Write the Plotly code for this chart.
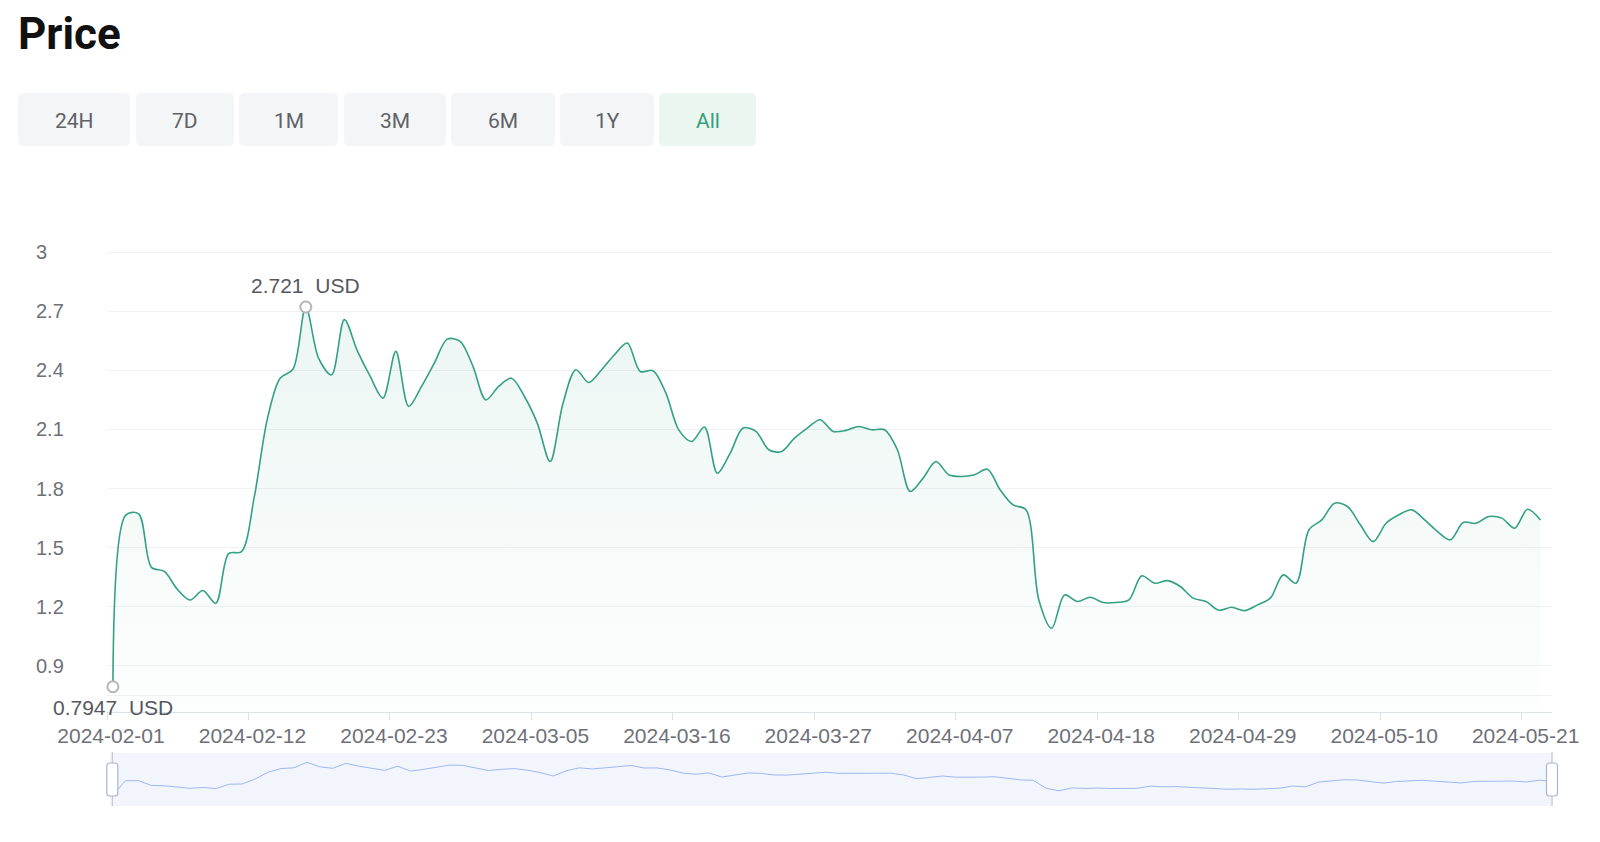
import plotly.graph_objects as go
import pandas as pd

# ---------------- data ----------------
title_text = "Price"
currency = "USD"
range_buttons = ["24H", "7D", "1M", "3M", "6M", "1Y", "All"]
active_button = "All"

first_timestamp = "2024-02-01 11:00"
prices = [
    0.7947, 1.665, 1.672, 1.400, 1.380, 1.290, 1.235, 1.283, 1.218, 1.470,
    1.480, 1.760, 2.150, 2.360, 2.405, 2.721, 2.460, 2.377, 2.657, 2.500,
    2.370, 2.259, 2.496, 2.217, 2.318, 2.437, 2.558, 2.547, 2.420, 2.250,
    2.318, 2.360, 2.267, 2.132, 1.937, 2.233, 2.403, 2.338, 2.403, 2.479,
    2.538, 2.394, 2.398, 2.284, 2.098, 2.039, 2.112, 1.878, 1.980, 2.107,
    2.090, 1.997, 1.988, 2.056, 2.107, 2.149, 2.090, 2.095, 2.115, 2.098,
    2.098, 1.997, 1.785, 1.853, 1.937, 1.870, 1.861, 1.870, 1.898, 1.793,
    1.717, 1.692, 1.235, 1.091, 1.260, 1.227, 1.249, 1.222, 1.222, 1.235,
    1.357, 1.320, 1.333, 1.303, 1.244, 1.227, 1.183, 1.198, 1.181, 1.210,
    1.244, 1.362, 1.320, 1.590, 1.641, 1.726, 1.709, 1.616, 1.531, 1.624,
    1.667, 1.692, 1.641, 1.582, 1.540, 1.628, 1.624, 1.658, 1.650, 1.599,
    1.695, 1.641,
]
dates = pd.date_range(first_timestamp, periods=len(prices), freq="D")

x_tick_dates = pd.date_range("2024-02-01", "2024-05-21", freq="11D")
y_tick_values = [0.9, 1.2, 1.5, 1.8, 2.1, 2.4, 2.7, 3.0]
y_tick_labels = ["0.9", "1.2", "1.5", "1.8", "2.1", "2.4", "2.7", "3"]
y_extra_grid = [0.75]

# ---------------- geometry / styles ----------------
W, H = 1600, 842
ML, MR, MT, MB = 107, 48, 250, 36
PW = W - ML - MR
PH = H - MT - MB


def px_x(px):
    return (px - ML) / PW


def px_y(py):
    return (H - MB - py) / PH


LINE = "#34a085"
AXIS_TXT = "#6e7079"
GRID = "#f0f1f3"
AXIS_LINE = "#dde1ea"
CHART_FONT = "Liberation Sans, Arial, sans-serif"
UI_FONT = "Roboto, Inter, sans-serif"

btn_left = [18, 136, 239, 344, 451, 560, 659]
btn_right = [130, 234, 338, 446, 555, 654, 756]
btn_top, btn_bottom = 93, 146

slider_left, slider_right = 110, 1553
slider_top, slider_bottom = 753, 806
handle_centers = [112.3, 1552.0]


def rounded_rect(x0, y0, x1, y1, r):
    def P(x, y):
        return f"{px_x(x):.6f},{px_y(y):.6f}"
    return (
        f"M {P(x0 + r, y0)} L {P(x1 - r, y0)} Q {P(x1, y0)} {P(x1, y0 + r)} "
        f"L {P(x1, y1 - r)} Q {P(x1, y1)} {P(x1 - r, y1)} "
        f"L {P(x0 + r, y1)} Q {P(x0, y1)} {P(x0, y1 - r)} "
        f"L {P(x0, y0 + r)} Q {P(x0, y0)} {P(x0 + r, y0)} Z"
    )


def clamp01(v):
    return max(0.0, min(1.0, v))


imax = prices.index(max(prices))
imin = prices.index(min(prices))

fig = go.Figure()

# main area line
fig.add_trace(go.Scatter(
    x=dates, y=prices, mode="lines",
    line=dict(color=LINE, width=1.6, shape="spline", smoothing=0.9),
    fill="tozeroy",
    fillgradient=dict(
        type="vertical",
        start=0.665, stop=2.8,
        colorscale=[[0, "rgba(52,160,133,0.01)"], [1, "rgba(52,160,133,0.10)"]],
    ),
    hoverinfo="skip", showlegend=False, xaxis="x", yaxis="y",
))

# min / max markers
fig.add_trace(go.Scatter(
    x=[dates[imax], dates[imin]], y=[prices[imax], prices[imin]],
    mode="markers",
    marker=dict(size=11, color="white", line=dict(color="#b5b5b5", width=2)),
    cliponaxis=False, hoverinfo="skip", showlegend=False, xaxis="x", yaxis="y",
))

# navigator (data shadow)
fig.add_trace(go.Scatter(
    x=dates, y=prices, mode="lines",
    line=dict(color="#9db8f2", width=1),
    hoverinfo="skip", showlegend=False, xaxis="x2", yaxis="y2",
))

shapes = []
annotations = []

# title
annotations.append(dict(
    xref="paper", yref="paper", x=px_x(16), y=px_y(34),
    xanchor="left", yanchor="middle", text=f"<b>{title_text}</b>",
    showarrow=False, font=dict(family=UI_FONT, size=44, color="#111111"),
))

# range buttons
for label, l, r in zip(range_buttons, btn_left, btn_right):
    active = label == active_button
    shapes.append(dict(
        type="path", xref="paper", yref="paper",
        path=rounded_rect(l, btn_top, r, btn_bottom, 6),
        fillcolor="#ebf6f1" if active else "#f3f5f6",
        line=dict(width=0), layer="below",
    ))
    annotations.append(dict(
        xref="paper", yref="paper", x=px_x((l + r) / 2), y=px_y((btn_top + btn_bottom) / 2 + 1),
        xanchor="center", yanchor="middle", text=label, showarrow=False,
        font=dict(family=UI_FONT, size=21, color="#34a07c" if active else "#5f6267"),
    ))

# y tick labels (left aligned)
for v, t in zip(y_tick_values, y_tick_labels):
    annotations.append(dict(
        xref="paper", yref="y", x=px_x(34), y=v, xanchor="left", yanchor="middle",
        text=t, showarrow=False, font=dict(family=CHART_FONT, size=20, color=AXIS_TXT),
    ))

# max / min labels
annotations.append(dict(
    x=dates[imax], y=prices[imax], xref="x", yref="y",
    text=f"{prices[imax]:g}\u00a0 {currency}",
    showarrow=False, yshift=22, xanchor="center", yanchor="middle",
    font=dict(family=CHART_FONT, size=21, color="#55585e"),
))
annotations.append(dict(
    x=dates[imin], y=prices[imin], xref="x", yref="y",
    text=f"{prices[imin]:g}\u00a0 {currency}",
    showarrow=False, yshift=-21, xanchor="center", yanchor="middle",
    font=dict(family=CHART_FONT, size=21, color="#55585e"),
))

# navigator background
shapes.append(dict(
    type="rect", xref="paper", yref="paper",
    x0=px_x(slider_left), x1=px_x(slider_right),
    y0=px_y(slider_bottom), y1=px_y(slider_top),
    fillcolor="#f3f5fc", line=dict(width=0), layer="below",
))

# navigator handles
for cx in handle_centers:
    shapes.append(dict(
        type="line", xref="paper", yref="paper", x0=px_x(cx), x1=px_x(cx),
        y0=px_y(slider_bottom), y1=px_y(slider_top - 1),
        line=dict(color="#b4bdd1", width=1), layer="above",
    ))
    shapes.append(dict(
        type="path", xref="paper", yref="paper",
        path=rounded_rect(cx - 5.5, 763, cx + 5.5, 796, 3),
        fillcolor="white", line=dict(color="#a9b5ce", width=1.2), layer="above",
    ))

main_y_bottom = px_y(712.3)

fig.update_layout(
    width=W, height=H,
    margin=dict(l=ML, r=MR, t=MT, b=MB, pad=0),
    paper_bgcolor="white", plot_bgcolor="white",
    showlegend=False,
    shapes=shapes, annotations=annotations,
    xaxis=dict(
        domain=[0, 1], anchor="y", type="date",
        range=["2024-02-01 00:00", "2024-05-23 08:40"],
        tickvals=list(x_tick_dates), tickformat="%Y-%m-%d",
        ticks="outside", ticklen=7, tickwidth=1, tickcolor=AXIS_LINE,
        showline=True, linecolor=AXIS_LINE, linewidth=1,
        showgrid=False, zeroline=False,
        tickfont=dict(family=CHART_FONT, size=21, color=AXIS_TXT),
        ticklabelshift=4, ticklabelstandoff=-3,
        fixedrange=True,
    ),
    yaxis=dict(
        domain=[main_y_bottom, 1], anchor="x",
        range=[0.665, 3.0102],
        tickvals=y_extra_grid + y_tick_values,
        showticklabels=False, ticks="",
        showgrid=True, gridcolor=GRID, gridwidth=1,
        zeroline=False, showline=False, fixedrange=True,
    ),
    xaxis2=dict(
        domain=[clamp01(px_x(handle_centers[0])), clamp01(px_x(handle_centers[1]))],
        anchor="y2", type="date",
        range=[dates[0], dates[-1]],
        visible=False, fixedrange=True,
    ),
    yaxis2=dict(
        domain=[px_y(slider_bottom), px_y(slider_top)], anchor="x2",
        range=[0.225, 3.25], visible=False, fixedrange=True,
    ),
)

fig.write_html("out.html")
